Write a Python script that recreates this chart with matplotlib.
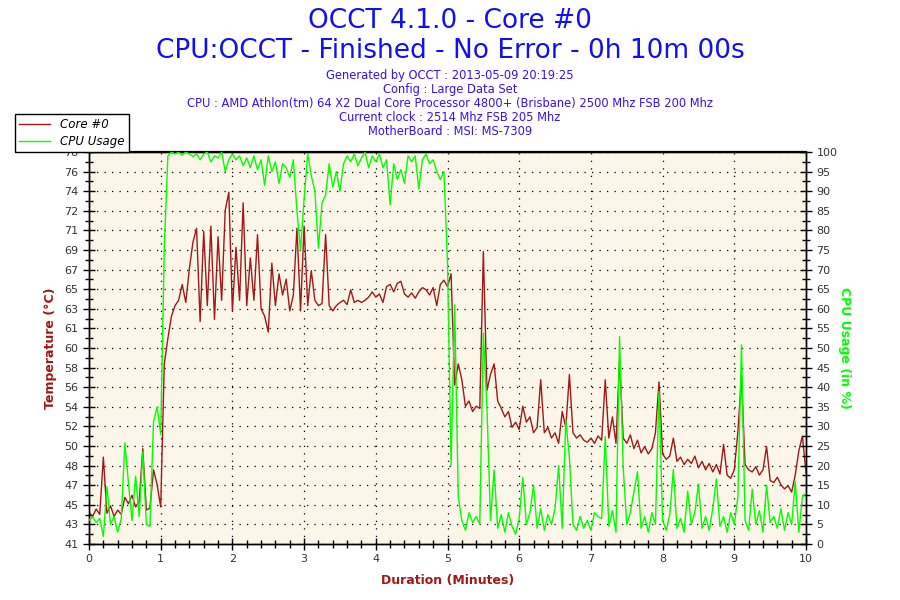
"""OCCT 4.1.0 core #0 temperature / CPU usage log, redrawn with matplotlib."""

import matplotlib

matplotlib.use("Agg")

import matplotlib.pyplot as plt
import numpy as np
from matplotlib.lines import Line2D
from matplotlib.ticker import FixedFormatter, FixedLocator, MultipleLocator

# --- data (one sample every 0.05 minutes) ---
minutes = np.round(np.arange(0, 201) * 0.05, 2)

core0_temp = [
    44.0, 43.6, 44.3, 43.8, 49.2, 43.9, 44.6, 43.6, 44.2, 43.8,
    45.4, 44.8, 45.6, 44.5, 45.0, 50.0, 44.2, 44.4, 48.0, 46.6,
    44.5, 58.0, 60.4, 62.5, 63.5, 64.0, 65.5, 63.8, 67.0, 69.5,
    70.8, 62.0, 70.5, 63.5, 71.0, 62.2, 70.0, 64.0, 72.5, 74.2,
    63.0, 69.0, 64.0, 73.2, 63.5, 68.0, 64.0, 70.2, 63.2, 62.5,
    61.0, 67.5, 63.5, 66.5, 64.5, 66.0, 63.0, 64.5, 70.8, 63.0,
    71.0, 63.5, 66.8, 64.0, 63.5, 63.7, 70.2, 63.5, 63.0, 63.5,
    63.8, 64.0, 63.6, 65.0, 63.8, 64.0, 63.8, 64.0, 64.3, 64.8,
    64.3, 64.6, 63.8, 65.3, 65.5, 64.8, 65.6, 65.8, 64.6, 64.3,
    64.7, 64.2, 64.8, 65.2, 65.0, 64.5, 65.2, 63.5, 65.5, 65.9,
    65.3, 66.5, 56.0, 58.0, 56.5, 54.0, 54.5, 53.5, 54.0, 53.8,
    68.6, 55.5, 57.0, 58.0, 54.5, 53.8, 53.0, 53.5, 52.0, 52.5,
    51.8, 54.0, 52.5, 53.0, 51.5, 52.0, 56.5, 51.5, 52.0, 51.0,
    51.5, 50.5, 53.5, 52.0, 57.0, 51.5, 51.0, 51.3, 50.8, 50.6,
    51.0, 50.5, 51.2, 50.8, 56.5, 51.0, 53.0, 50.5, 58.5, 51.0,
    50.5, 51.3, 50.0, 50.8, 49.6, 50.2, 49.5, 50.0, 51.5, 56.3,
    49.5, 49.0, 49.3, 51.0, 48.8, 49.2, 48.5, 49.0, 48.6, 49.3,
    48.2, 48.8, 48.0, 48.6, 47.8, 48.5, 47.6, 50.4, 47.5, 47.2,
    48.0, 51.6, 56.8, 48.5, 48.0, 47.8, 48.3, 47.5, 48.0, 50.2,
    47.0, 46.8, 47.3, 46.6, 46.2, 46.5, 45.9, 47.5, 49.8, 51.2,
    47.7,
]

cpu_usage = [
    6.0, 6.9, 5.5, 6.5, 1.9, 14.6, 5.0, 7.0, 3.0, 6.5,
    25.8, 15.6, 6.0, 17.3, 7.0, 23.5, 5.0, 4.5, 31.2, 35.0,
    28.0, 75.5, 99.0, 100.0, 99.5, 100.0, 99.2, 100.0, 99.5, 98.8,
    99.6, 98.0, 99.5, 100.0, 97.5, 99.0, 98.5, 100.0, 95.0, 98.0,
    99.5, 98.0, 99.0, 96.5, 98.5, 96.0, 99.0, 95.5, 98.0, 91.5,
    99.0, 95.0, 97.5, 92.0, 97.0, 96.0, 93.5, 98.0, 85.0, 75.0,
    88.0, 99.5, 94.0, 90.0, 75.5, 87.0, 89.0, 97.0, 91.0, 95.0,
    90.0, 97.0, 99.0, 97.5, 99.5, 96.5, 98.5, 100.0, 96.0, 99.0,
    97.5, 99.5, 96.0, 98.0, 86.5, 97.0, 93.0, 95.5, 92.0, 99.0,
    97.5, 99.0, 90.5, 98.0, 99.5, 97.0, 98.0, 95.0, 93.0, 95.0,
    72.0, 20.0, 61.0, 12.0, 6.0, 3.5, 8.0, 5.5, 7.0, 5.0,
    53.8, 35.0, 6.0, 18.9, 4.0, 7.5, 3.0, 8.0, 4.5, 2.5,
    6.5, 17.0, 5.0, 8.0, 15.0, 4.0, 9.0, 3.5, 7.5, 5.0,
    9.0, 20.0, 4.0, 31.6, 22.0, 5.0, 3.5, 7.0, 4.0, 6.0,
    3.5, 8.0, 7.0, 6.5, 27.4, 4.5, 8.5, 3.0, 52.9, 19.7,
    5.0, 8.0, 13.3, 18.4, 4.0, 7.0, 3.0, 8.0, 5.0, 38.9,
    6.0, 3.5, 7.5, 19.0, 4.0, 6.5, 3.0, 13.5, 5.0, 8.0,
    15.3, 4.0, 7.0, 3.5, 9.0, 16.6, 4.5, 7.0, 3.0, 8.0,
    5.0, 12.0, 50.8, 6.0, 3.5, 14.0, 5.0, 8.5, 3.0, 15.0,
    5.5, 7.0, 4.0, 9.0, 3.5, 8.0, 5.0, 16.0, 3.0, 12.0,
    13.0,
]

temp_tick_labels = [
    "41", "43", "45", "47", "48", "50", "52", "54", "56", "58", "60",
    "61", "63", "65", "67", "69", "71", "72", "74", "76", "78",
]
TEMP_MIN, TEMP_MAX = 41, 78

title_lines = ["OCCT 4.1.0 - Core #0", "CPU:OCCT - Finished - No Error - 0h 10m 00s"]
info_lines = [
    "Generated by OCCT : 2013-05-09 20:19:25",
    "Config : Large Data Set",
    "CPU : AMD Athlon(tm) 64 X2 Dual Core Processor 4800+ (Brisbane) 2500 Mhz FSB 200 Mhz",
    "Current clock : 2514 Mhz FSB 205 Mhz",
    "MotherBoard : MSI: MS-7309",
]

TEMP_COLOR = "#A01818"
CPU_COLOR = "#00FF00"
TITLE_COLOR = "#1010F0"
INFO_COLOR = "#3A10F0"
TICK_COLOR = "#333333"


def main() -> None:
    fig = plt.figure(figsize=(9, 6), dpi=100, facecolor="white")
    ax = fig.add_axes([89 / 900, 56 / 600, 717 / 900, 392 / 600])
    ax.set_facecolor("#FCF6E8")

    # grid and axis for temperature
    ax.set_xlim(0, 10)
    ax.set_ylim(TEMP_MIN, TEMP_MAX)
    temp_ticks = np.linspace(TEMP_MIN, TEMP_MAX, len(temp_tick_labels))
    ax.yaxis.set_major_locator(FixedLocator(temp_ticks))
    ax.yaxis.set_major_formatter(FixedFormatter(temp_tick_labels))
    half_step = (temp_ticks[1] - temp_ticks[0]) / 2
    ax.yaxis.set_minor_locator(FixedLocator(temp_ticks[:-1] + half_step))
    ax.xaxis.set_major_locator(MultipleLocator(1))
    ax.xaxis.set_minor_locator(MultipleLocator(0.2))
    ax.grid(True, which="major", color="black", linestyle=(0, (1, 5)), linewidth=0.9)

    ax.plot(minutes, core0_temp, color=TEMP_COLOR, linewidth=1.0, zorder=3)

    ax2 = ax.twinx()
    ax2.set_ylim(0, 100)
    ax2.yaxis.set_major_locator(MultipleLocator(5))
    ax2.yaxis.set_minor_locator(MultipleLocator(2.5))
    ax2.plot(minutes, cpu_usage, color=CPU_COLOR, linewidth=1.0, zorder=3)

    for axis in (ax, ax2):
        axis.tick_params(which="major", direction="inout", length=9, width=1,
                         color="black", labelsize=8, labelcolor=TICK_COLOR, pad=3)
        axis.tick_params(which="minor", direction="inout", length=6, width=1, color="black")
        for spine in axis.spines.values():
            spine.set_color("black")
            spine.set_linewidth(1.0)
    ax.spines["top"].set_linewidth(1.6)

    ax.set_xlabel("Duration (Minutes)", color=TEMP_COLOR, fontsize=9,
                  fontweight="bold", labelpad=7)
    ax.set_ylabel("Temperature (°C)", color=TEMP_COLOR, fontsize=9,
                  fontweight="bold", labelpad=5)
    ax2.set_ylabel("CPU Usage (in %)", color=CPU_COLOR, fontsize=9,
                   fontweight="bold", rotation=-90, labelpad=10)

    # header
    fig.text(0.5, 1 - 21 / 600, title_lines[0], ha="center", va="center",
             fontsize=19, color=TITLE_COLOR)
    fig.text(0.5, 1 - 51 / 600, title_lines[1], ha="center", va="center",
             fontsize=19, color=TITLE_COLOR)
    for i, line in enumerate(info_lines):
        fig.text(0.5, 1 - (76 + i * 13.8) / 600, line, ha="center", va="center",
                 fontsize=8.3, color=INFO_COLOR)

    handles = [
        Line2D([], [], color=TEMP_COLOR, linewidth=1.0),
        Line2D([], [], color=CPU_COLOR, linewidth=1.0),
    ]
    legend = fig.legend(handles, ["Core #0", "CPU Usage"], loc="upper left",
                        bbox_to_anchor=(15 / 900, 1 - 114 / 600), borderaxespad=0,
                        frameon=True, fancybox=False, edgecolor="black", framealpha=1,
                        prop={"style": "italic", "size": 8.5}, handlelength=2.6,
                        borderpad=0.35, labelspacing=0.35, handletextpad=0.9)
    legend.get_frame().set_linewidth(1.0)
    legend.set_zorder(10)

    fig.savefig("out.png", dpi=100, facecolor="white")
    plt.close(fig)


if __name__ == "__main__":
    main()
